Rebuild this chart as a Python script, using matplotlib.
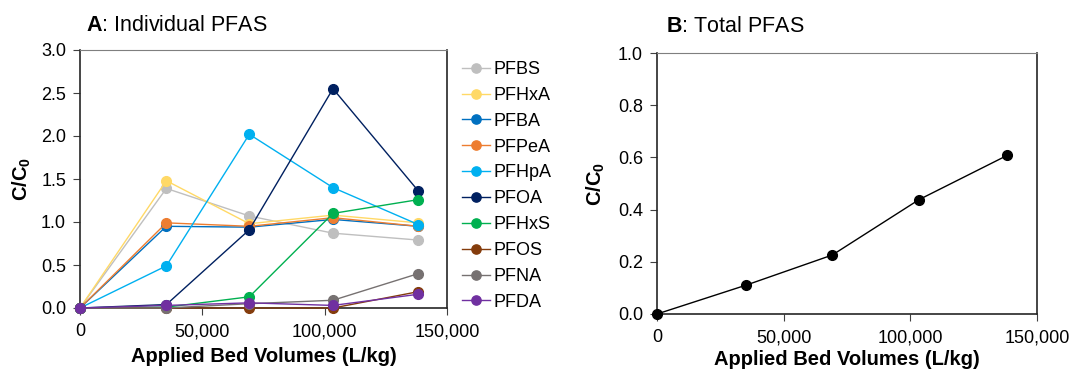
import numpy as np
import matplotlib.pyplot as plt
from matplotlib.ticker import FuncFormatter

plt.rcParams['font.family'] = 'Liberation Sans'
plt.rcParams['mathtext.fontset'] = 'custom'
plt.rcParams['mathtext.rm'] = 'Liberation Sans'
plt.rcParams['mathtext.bf'] = 'Liberation Sans:bold'

bv = [0, 35300, 69200, 103400, 138300]

names = ["PFBS", "PFHxA", "PFBA", "PFPeA", "PFHpA",
         "PFOA", "PFHxS", "PFOS", "PFNA", "PFDA"]
colors = ["#bfbfbf", "#ffd966", "#0070c0", "#ed7d31", "#00b0f0",
          "#002060", "#00b050", "#843c0c", "#767171", "#7030a0"]
pfbs = [0, 1.39, 1.07, 0.87, 0.79]
pfhxa = [0, 1.48, 0.98, 1.08, 0.99]
pfba = [0, 0.95, 0.94, 1.03, 0.95]
pfpea = [0, 0.99, 0.95, 1.05, 0.95]
pfhpa = [0, 0.49, 2.02, 1.40, 0.97]
pfoa = [0, 0.04, 0.91, 2.55, 1.36]
pfhxs = [0, 0.01, 0.13, 1.10, 1.26]
pfos = [0, 0.0, 0.0, 0.0, 0.19]
pfna = [0, 0.0, 0.05, 0.09, 0.40]
pfda = [0, 0.03, 0.06, 0.03, 0.16]
series = [pfbs, pfhxa, pfba, pfpea, pfhpa, pfoa, pfhxs, pfos, pfna, pfda]

total = [0, 0.111, 0.226, 0.438, 0.608]

comma = FuncFormatter(lambda v, p: f"{int(v):,}")
onedp = FuncFormatter(lambda v, p: f"{v:.1f}")

fig = plt.figure(figsize=(10.72, 3.76), dpi=100)
ax1 = fig.add_axes([80/1072, 68/376, 367/1072, 258/376])
ax2 = fig.add_axes([657/1072, 62/376, 380/1072, 261/376])

for vals, name, c in zip(series, names, colors):
    ax1.plot(bv, vals, color=c, lw=1.0, marker='o', ms=7, label=name,
             clip_on=False, zorder=3)

ax1.set_xlim(0, 150000)
ax1.set_ylim(0, 3.0)
ax1.set_xticks([0, 50000, 100000, 150000])
ax1.set_yticks(np.arange(0, 3.01, 0.5))
ax1.yaxis.set_major_formatter(onedp)
ax1.xaxis.set_major_formatter(comma)
ax1.set_xlabel("Applied Bed Volumes (L/kg)", fontsize=14.5,
               fontweight='bold', labelpad=5)
ax1.set_ylabel(r"$\mathbf{C/C_0}$", fontsize=14.5, labelpad=6)
ax1.text(0.015, 1.055, r"$\mathbf{A}$: Individual PFAS", transform=ax1.transAxes,
         fontsize=15.5, ha='left', va='bottom')
ax1.legend(loc='upper left', bbox_to_anchor=(1.02, 0.985), frameon=False,
           fontsize=13, handlelength=1.6, handletextpad=0.15,
           labelspacing=0.49, borderaxespad=0, markerscale=0.95)

ax2.plot(bv, total, color='black', lw=1.0, marker='o', ms=7,
         clip_on=False, zorder=3)
ax2.set_xlim(0, 150000)
ax2.set_ylim(0, 1.0)
ax2.set_xticks([0, 50000, 100000, 150000])
ax2.set_yticks(np.arange(0, 1.01, 0.2))
ax2.yaxis.set_major_formatter(onedp)
ax2.xaxis.set_major_formatter(comma)
ax2.set_xlabel("Applied Bed Volumes (L/kg)", fontsize=14.5,
               fontweight='bold', labelpad=3)
ax2.set_ylabel(r"$\mathbf{C/C_0}$", fontsize=14.5, labelpad=8)
ax2.text(0.025, 1.06, r"$\mathbf{B}$: Total PFAS", transform=ax2.transAxes,
         fontsize=15.5, ha='left', va='bottom')

for ax in (ax1, ax2):
    ax.tick_params(direction='out', length=5, width=0.8, labelsize=13,
                   color='#404040', pad=5)
    ax.tick_params(axis='x', pad=6)
    for s in ('left', 'bottom', 'right'):
        ax.spines[s].set_color('#262626')
        ax.spines[s].set_linewidth(1.2)
    ax.spines['top'].set_color('#7f7f7f')
    ax.spines['top'].set_linewidth(0.8)

fig.savefig("out.png", dpi=100)
